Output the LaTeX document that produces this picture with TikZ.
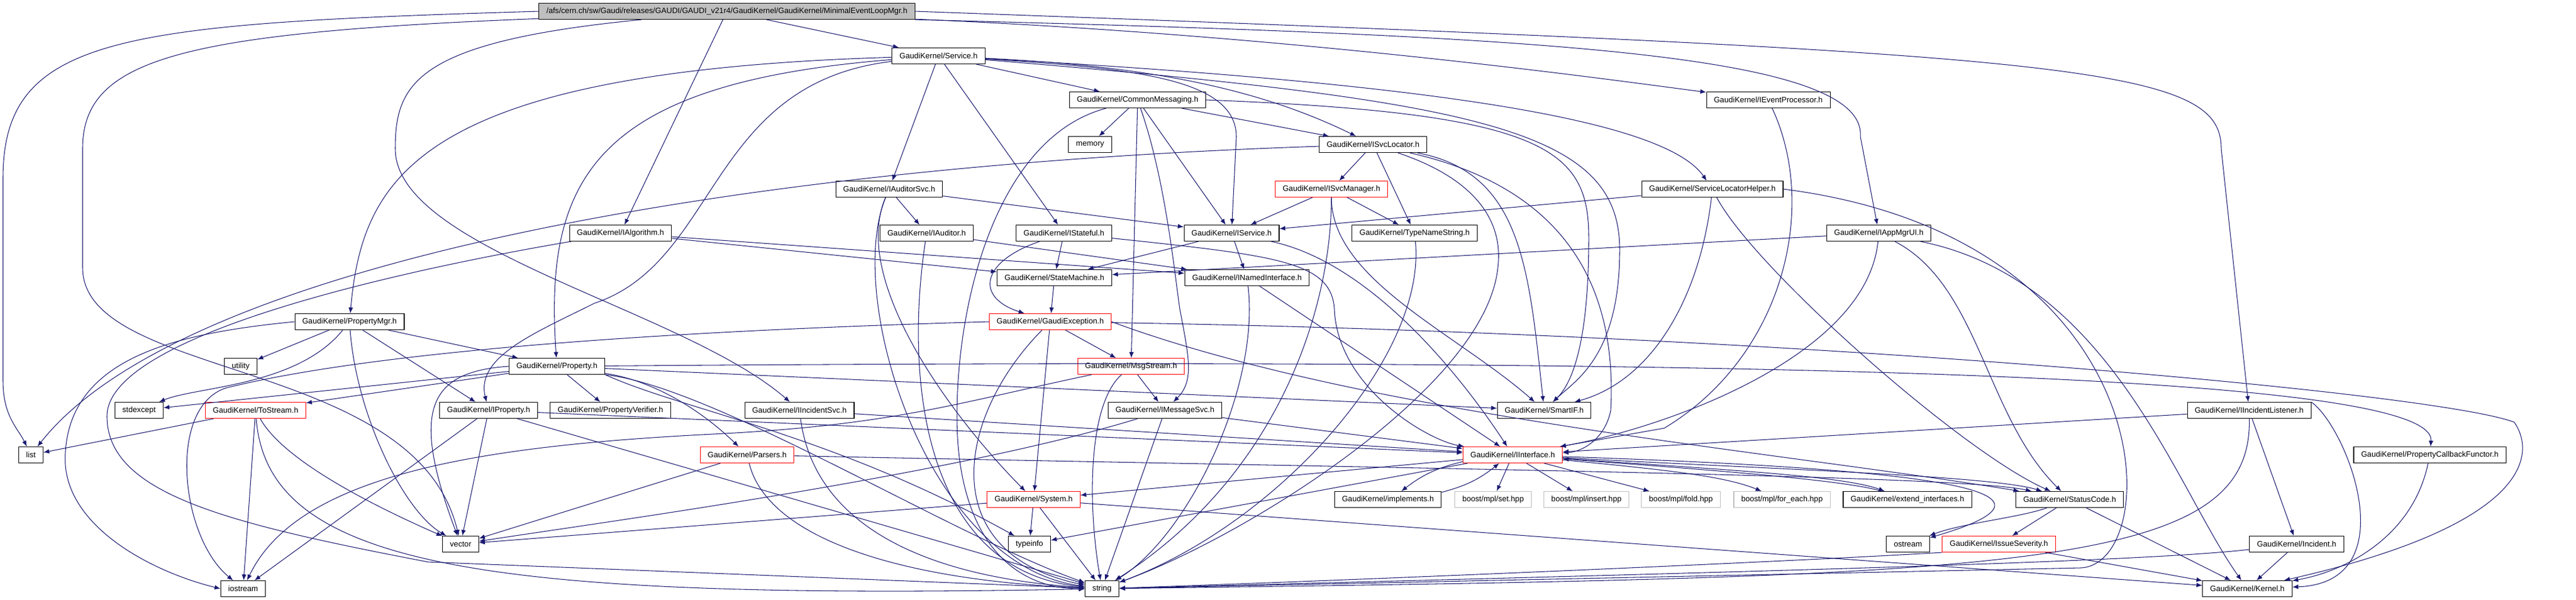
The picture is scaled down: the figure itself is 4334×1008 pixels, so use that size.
\documentclass[tikz,border=0pt]{standalone}
\usepackage{fontspec}
\setmainfont{Liberation Sans}
\usepackage{tikz}
\usetikzlibrary{arrows.meta}
\definecolor{edgeblue}{HTML}{191970}
\definecolor{boxgrey}{HTML}{BFBFBF}

\begin{document}
\begin{tikzpicture}[->,>={Latex[length=2.8pt,width=2.2pt]},x=0.01cm,y=-0.01cm,
    font=\fontsize{3.73}{4.5}\selectfont]
    \tikzstyle{file}=[draw=black, line width=0.3pt, minimum height=0.27cm, inner xsep=0.125cm, inner ysep=0pt]
    \tikzstyle{cut}=[file, draw=red]
    \tikzstyle{lib}=[file, draw=boxgrey]
    \tikzstyle{dep}=[draw=edgeblue, line width=0.3pt]
    \tikzstyle{every edge}=[dep]

    \useasboundingbox (0,0) rectangle (4334,1008);

    \node[file, fill=boxgrey] (root) at (1223,19) {/afs/cern.ch/sw/Gaudi/releases/GAUDI/GAUDI\_v21r4/GaudiKernel/GaudiKernel/MinimalEventLoopMgr.h};
    \node[file] (svc) at (1579,94) {GaudiKernel/Service.h};
    \node[file] (cm) at (1914,168) {GaudiKernel/CommonMessaging.h};
    \node[file] (iep) at (2975,168) {GaudiKernel/IEventProcessor.h};
    \node[file] (mem) at (1834,243) {memory};
    \node[file] (isl) at (2310,243) {GaudiKernel/ISvcLocator.h};
    \node[file] (ias) at (1496,318) {GaudiKernel/IAuditorSvc.h};
    \node[cut] (ism) at (2240,318) {GaudiKernel/ISvcManager.h};
    \node[file] (slh) at (2881,318) {GaudiKernel/ServiceLocatorHelper.h};
    \node[file] (ialg) at (1044,392) {GaudiKernel/IAlgorithm.h};
    \node[file] (iaud) at (1559,392) {GaudiKernel/IAuditor.h};
    \node[file] (ist) at (1790,392) {GaudiKernel/IStateful.h};
    \node[file] (isvc) at (2072,392) {GaudiKernel/IService.h};
    \node[file] (tns) at (2380,392) {GaudiKernel/TypeNameString.h};
    \node[file] (iam) at (3161,392) {GaudiKernel/IAppMgrUI.h};
    \node[file] (sm) at (1774,467) {GaudiKernel/StateMachine.h};
    \node[file] (ini) at (2098,467) {GaudiKernel/INamedInterface.h};
    \node[file] (pm) at (588,541) {GaudiKernel/PropertyMgr.h};
    \node[cut] (ge) at (1767,541) {GaudiKernel/GaudiException.h};
    \node[file] (util) at (405,616) {utility};
    \node[file] (prop) at (937,616) {GaudiKernel/Property.h};
    \node[cut] (ms) at (1903,616) {GaudiKernel/MsgStream.h};
    \node[file] (stdx) at (234,690) {stdexcept};
    \node[cut] (ts) at (430,690) {GaudiKernel/ToStream.h};
    \node[file] (iprop) at (822,690) {GaudiKernel/IProperty.h};
    \node[file] (pv) at (1027,690) {GaudiKernel/PropertyVerifier.h};
    \node[file] (iis) at (1345,690) {GaudiKernel/IIncidentSvc.h};
    \node[file] (ims) at (1960,690) {GaudiKernel/IMessageSvc.h};
    \node[file] (sif) at (2598,690) {GaudiKernel/SmartIF.h};
    \node[file] (iil) at (3784,690) {GaudiKernel/IIncidentListener.h};
    \node[file] (list) at (52,765) {list};
    \node[cut] (pars) at (1257,765) {GaudiKernel/Parsers.h};
    \node[cut] (ii) at (2545,765) {GaudiKernel/IInterface.h};
    \node[file] (pcf) at (4088,765) {GaudiKernel/PropertyCallbackFunctor.h};
    \node[cut] (sys) at (1739,840) {GaudiKernel/System.h};
    \node[file] (impl) at (2335,840) {GaudiKernel/implements.h};
    \node[lib] (bset) at (2512,840) {boost/mpl/set.hpp};
    \node[lib] (bins) at (2669,840) {boost/mpl/insert.hpp};
    \node[lib] (bfold) at (2828,840) {boost/mpl/fold.hpp};
    \node[lib] (bfe) at (2998,840) {boost/mpl/for\_each.hpp};
    \node[file] (ext) at (3209,840) {GaudiKernel/extend\_interfaces.h};
    \node[file] (sc) at (3482,840) {GaudiKernel/StatusCode.h};
    \node[file] (vec) at (775,915) {vector};
    \node[file] (ti) at (1732,915) {typeinfo};
    \node[file] (ost) at (3210,915) {ostream};
    \node[cut] (is) at (3363,915) {GaudiKernel/IssueSeverity.h};
    \node[file] (inc) at (3864,915) {GaudiKernel/Incident.h};
    \node[file] (ios) at (409,990) {iostream};
    \node[file] (str) at (1854,990) {string};
    \node[file] (ker) at (3781,990) {GaudiKernel/Kernel.h};

    % MinimalEventLoopMgr.h
    \path (root) edge (ialg) edge (svc);
    \draw[dep] (root.west) .. controls (200,40) and (5,60) .. (5,300) -- (5,640) .. controls (5,700) and (30,720) .. (list);
    \draw[dep] (root) .. controls (300,55) and (139,100) .. (139,250) -- (139,450) .. controls (139,640) and (700,600) .. (vec);
    \draw[dep] (root) .. controls (700,70) and (665,140) .. (665,250) .. controls (665,420) and (1150,520) .. (iis);
    \draw[dep] (root) .. controls (2200,60) and (2750,140) .. (iep);
    \draw[dep] (root.south east) .. controls (2600,60) and (3140,90) .. (3130,230) -- (iam);
    \draw[dep] (root.east) .. controls (3500,90) and (3737,110) .. (3737,250) -- (iil);

    % Service.h
    \path (svc) edge (ias) edge (ist) edge (cm);
    \draw[dep] (svc) .. controls (700,120) and (610,300) .. (pm);
    \draw[dep] (svc) .. controls (1000,140) and (915,300) .. (prop);
    \draw[dep] (svc) .. controls (1190,140) and (1210,440) .. (1000,510) .. controls (900,560) and (800,600) .. (iprop);
    \draw[dep] (svc) .. controls (1900,115) and (2080,130) .. (2080,230) -- (isvc);
    \draw[dep] (svc) .. controls (1900,110) and (2100,140) .. (isl);
    \draw[dep] (svc) .. controls (2400,140) and (2800,200) .. (slh);
    \draw[dep] (svc) .. controls (2500,170) and (2725,220) .. (2725,420) .. controls (2725,600) and (2650,640) .. (sif);

    % CommonMessaging.h
    \path (cm) edge (mem) edge (isvc) edge (isl) edge (ms);
    \draw[dep] (cm) .. controls (1960,300) and (1975,450) .. (1985,520) .. controls (2000,600) and (2010,640) .. (ims);
    \draw[dep] (cm.east) .. controls (2600,190) and (2673,250) .. (2673,400) .. controls (2673,560) and (2650,640) .. (sif);
    \draw[dep] (cm) .. controls (1680,230) and (1610,500) .. (1610,700) .. controls (1610,900) and (1700,990) .. (str);

    \path (ias) edge (iaud) edge (isvc);
    \draw[dep] (ias) .. controls (1420,500) and (1560,950) .. (str);
    \draw[dep] (ias) .. controls (1430,470) and (1600,700) .. (sys);

    \path (iaud) edge (ini);
    \draw[dep] (iaud) .. controls (1520,650) and (1560,960) .. (str);

    \path (ist) edge (sm);
    \draw[dep] (ist) .. controls (1650,440) and (1640,500) .. (ge);
    \draw[dep] (ist) .. controls (2150,430) and (2240,440) .. (2245,520) .. controls (2250,650) and (2400,740) .. (ii);

    \path (ialg) edge (sm) edge (ini);
    \draw[dep] (ialg) .. controls (700,450) and (180,560) .. (180,700) .. controls (180,830) and (380,880) .. (720,945) -- (str);

    \path (isvc) edge (sm) edge (ini);
    \draw[dep] (isvc) .. controls (2300,440) and (2450,620) .. (ii);

    \path (ism) edge (isvc) edge (tns);
    \draw[dep] (ism) .. controls (2240,470) and (2450,560) .. (sif);
    \draw[dep] (ism) .. controls (2240,520) and (2150,800) .. (str);

    \path (sm) edge (ge);
    \path (ini) edge (ii);
    \draw[dep] (ini) .. controls (2120,650) and (2000,900) .. (str);

    % ISvcLocator.h
    \path (isl) edge (ism) edge (tns);
    \draw[dep] (isl) .. controls (1200,280) and (300,450) .. (list);
    \draw[dep] (isl) .. controls (2560,290) and (2572,450) .. (sif);
    \draw[dep] (isl) .. controls (2650,320) and (2720,500) .. (2710,690) .. controls (2700,740) and (2660,760) .. (ii);
    \draw[dep] (isl) .. controls (2480,300) and (2530,370) .. (2520,450) .. controls (2500,650) and (2100,900) .. (str);

    \draw[dep] (tns) .. controls (2400,600) and (2150,880) .. (str);
    \draw[dep] (iep) .. controls (3060,350) and (3000,600) .. (2800,720) -- (ii);

    \path (slh) edge (isvc);
    \draw[dep] (slh) .. controls (2860,500) and (2780,640) .. (sif);
    \draw[dep] (slh) .. controls (2950,450) and (3300,760) .. (sc);
    \draw[dep] (slh.east) .. controls (3645,400) and (3645,950) .. (3500,955) -- (str);

    \path (iam) edge (sm);
    \draw[dep] (iam) .. controls (3140,600) and (2800,720) .. (ii);
    \draw[dep] (iam) .. controls (3330,480) and (3340,700) .. (sc);
    \draw[dep] (iam) .. controls (3550,470) and (3660,820) .. (ker);

    % PropertyMgr.h, Property.h
    \path (pm) edge (util) edge (prop) edge (iprop);
    \draw[dep] (pm) .. controls (500,650) and (330,650) .. (stdx);
    \draw[dep] (pm) .. controls (600,700) and (680,860) .. (vec);
    \draw[dep] (pm.west) .. controls (300,560) and (120,600) .. (110,760) .. controls (100,880) and (250,960) .. (ios.west);

    \path (prop) edge (stdx) edge (ts) edge (pv) edge (sif);
    \draw[dep] (prop) .. controls (1100,640) and (1180,690) .. (pars);
    \draw[dep] (prop.west) .. controls (720,625) and (690,690) .. (vec);
    \draw[dep] (prop.south east) .. controls (1150,690) and (1400,730) .. (ti);
    \draw[dep] (prop.south east) .. controls (1200,650) and (1600,900) .. (str);
    \draw[dep] (prop) .. controls (3000,600) and (4100,630) .. (pcf);

    \path (iprop) edge (vec) edge (ios) edge (str) edge (ii);

    \path (ts) edge (list) edge (ios);
    \draw[dep] (ts) .. controls (480,780) and (650,860) .. (vec);
    \draw[dep] (ts) .. controls (450,950) and (800,1010) .. (str);

    \path (iis) edge (ii);
    \draw[dep] (iis) .. controls (1370,880) and (1550,970) .. (str);

    \path (pars) edge (vec);
    \draw[dep] (pars) .. controls (1290,900) and (1500,975) .. (str);
    \draw[dep] (pars) .. controls (2500,790) and (3300,800) .. (sc);

    % GaudiException.h, MsgStream.h
    \path (ge) edge (ms) edge (sys);
    \draw[dep] (ge) .. controls (1610,700) and (1570,930) .. (str);
    \draw[dep] (ge.west) .. controls (1000,560) and (600,600) .. (390,650) .. controls (280,670) and (300,900) .. (ios);
    \draw[dep] (ge.east) .. controls (2300,700) and (3000,760) .. (sc);
    \draw[dep] (ge) .. controls (3000,560) and (4100,660) .. (4230,710) .. controls (4265,760) and (4265,880) .. (ker);

    \path (ms) edge (ims);
    \draw[dep] (ms) .. controls (1830,680) and (1830,850) .. (str);
    \draw[dep] (ms) .. controls (1600,680) and (1500,715) .. (1200,730) .. controls (800,750) and (500,800) .. (ios);

    \path (ims) edge (str) edge (ii);
    \draw[dep] (ims) .. controls (1600,800) and (1000,880) .. (vec);

    \path (sys) edge (ti) edge (str) edge (vec) edge (ker);

    % IInterface.h
    \path (ii) edge (sys) edge (ti) edge (bset) edge (bins) edge (bfold);
    \path (ii) edge[bend right=12] (impl);
    \path (impl) edge[bend right=12] (ii);
    \draw[dep] (ii) .. controls (2800,790) and (2900,800) .. (bfe);
    \draw[dep] (ii) .. controls (2900,790) and (3100,800) .. (ext);
    \draw[dep] (ii) .. controls (3000,790) and (3350,800) .. (sc);
    \draw[dep] (ii) .. controls (3300,790) and (3500,830) .. (ost);
    \draw[dep] (ext) .. controls (3100,805) and (2800,785) .. (ii);

    \path (sc) edge (is) edge (ker);
    \draw[dep] (sc) .. controls (3400,870) and (3300,880) .. (ost);

    \path (is) edge (ker);
    \draw[dep] (is.south west) .. controls (3000,945) and (2300,975) .. (str);

    \path (iil) edge (ii) edge (inc);
    \draw[dep] (iil.north east) .. controls (3950,720) and (4050,980) .. (ker);
    \draw[dep] (iil) .. controls (3790,960) and (3400,970) .. (str);

    \path (inc) edge (ker);
    \draw[dep] (inc) .. controls (3600,945) and (3000,960) .. (str);

    \draw[dep] (pcf) .. controls (4060,900) and (3950,960) .. (ker);
\end{tikzpicture}
\end{document}
